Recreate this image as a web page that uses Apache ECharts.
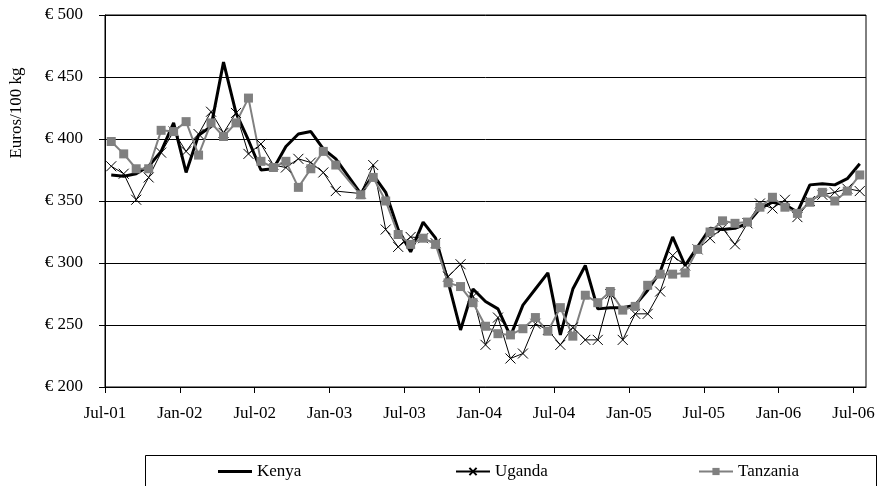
<!DOCTYPE html>
<html>
<head>
<meta charset="utf-8">
<script src="https://cdn.jsdelivr.net/npm/echarts@6/dist/echarts.min.js"></script>
<style>
  html, body { margin: 0; background: #fff; }
  #chart { width: 888px; height: 486px; }
</style>
</head>
<body>
<div id="chart"></div>
<script>
// monthly prices, Jul-01 .. Jul-06 (61 months), euros per 100 kg
var tickLabels = ['Jul-01', 'Jan-02', 'Jul-02', 'Jan-03', 'Jul-03', 'Jan-04', 'Jul-04', 'Jan-05', 'Jul-05', 'Jan-06', 'Jul-06'];

var kenya = [371, 370, 372, 378, 390, 413, 373, 403, 410, 462,
             421, 399, 375, 376, 394, 404, 406, 392, 384, null,
             356, 371, 357, 327, 309, 333, 320, 285, 246, 279,
             269, 263, 241, 266, 279, 292, 242, 279, 298, 263,
             264, 264, 266, 278, 293, 321, 298, 313, 328, 327,
             328, 332, 344, 349, 347, 341, 363, 364, 363, 368,
             380];

var uganda = [378, 372, 351, 369, 389, 406, 390, 404, 422, 405,
              421, 388, 396, 379, 377, 384, 381, 373, 358, null,
              356, 379, 327, 313, 321, 320, 316, 289, 299, 273,
              234, 256, 223, 227, 251, 246, 234, 248, 238, 238,
              275, 238, 259, 259, 277, 306, 298, 311, 320, 328,
              315, 332, 348, 344, 351, 337, 350, 355, 357, 360,
              358];

var tanzania = [398, 388, 376, 376, 407, 406, 414, 387, 413, 402,
                413, 433, 382, 377, 382, 361, 376, 390, 379, null,
                355, 369, 350, 323, 315, 320, 315, 284, 281, 268,
                249, 243, 242, 247, 256, 245, 264, 241, 274, 268,
                277, 262, 265, 282, 291, 291, 292, 311, 325, 334,
                332, 333, 345, 353, 345, 340, 349, 357, 350, 358,
                371];

var serif = '"Liberation Serif", "Times New Roman", serif';

function points(arr) {
    return arr.map(function (v, i) { return [i + 0.5, v]; });
}

var tickPos = tickLabels.map(function (t, i) { return i * 6; });

var myChart = echarts.init(document.getElementById('chart'));
var option = {
    animation: false,
    backgroundColor: '#fff',
    grid: {
        left: 105, right: 22, top: 15, bottom: 99,
        show: true, borderColor: '#000', borderWidth: 1
    },
    xAxis: {
        type: 'value',
        min: 0,
        max: 61,
        axisLine: { lineStyle: { color: '#000', width: 1 } },
        axisTick: { show: true, length: 6, lineStyle: { color: '#000' }, customValues: tickPos },
        axisLabel: {
            customValues: tickPos,
            color: '#000', fontFamily: serif, fontSize: 17, margin: 18,
            formatter: function (v) { return tickLabels[Math.round(v / 6)] || ''; }
        },
        splitLine: { show: false }
    },
    yAxis: {
        type: 'value',
        min: 200,
        max: 500,
        interval: 50,
        axisLine: { show: true, lineStyle: { color: '#000', width: 1 } },
        axisTick: { show: true, length: 6, lineStyle: { color: '#000' } },
        axisLabel: {
            color: '#000', fontFamily: serif, fontSize: 17, margin: 22,
            formatter: function (v) { return '€ ' + v; }
        },
        splitLine: { lineStyle: { color: '#000', width: 1 } }
    },
    legend: [
        { data: [{ name: 'Kenya', icon: 'rect' }], left: 218, itemHeight: 3 },
        { data: ['Uganda'], left: 455, itemHeight: 9 },
        { data: ['Tanzania'], left: 698, itemHeight: 9 }
    ].map(function (l) {
        l.top = 463;
        l.padding = 0;
        l.itemWidth = 34;
        l.selectedMode = false;
        l.textStyle = { color: '#000', fontFamily: serif, fontSize: 17, lineHeight: 17 };
        return l;
    }),
    graphic: [
        {
            type: 'rect',
            shape: { x: 145.5, y: 455.5, width: 731, height: 40 },
            style: { fill: 'none', stroke: '#000', lineWidth: 1 }
        },
        {
            type: 'text',
            x: 17, y: 113,
            rotation: Math.PI / 2,
            style: {
                text: 'Euros/100 kg', font: '17px ' + serif, fill: '#000',
                textAlign: 'center', textVerticalAlign: 'middle'
            }
        }
    ],
    series: [
        {
            name: 'Kenya',
            type: 'line',
            data: points(kenya),
            connectNulls: true,
            symbol: 'none',
            lineStyle: { color: '#000', width: 3 },
            itemStyle: { color: '#000' }
        },
        {
            name: 'Uganda',
            type: 'line',
            data: points(uganda),
            connectNulls: true,
            symbol: 'path://M0,0L10,10M10,0L0,10',
            symbolSize: 10,
            lineStyle: { color: '#000', width: 1 },
            itemStyle: { color: '#000', borderColor: '#000', borderWidth: 1 }
        },
        {
            name: 'Tanzania',
            type: 'line',
            data: points(tanzania),
            connectNulls: true,
            symbol: 'rect',
            symbolSize: 9,
            lineStyle: { color: '#808080', width: 2 },
            itemStyle: { color: '#808080' }
        }
    ]
};
myChart.setOption(option);
</script>
</body>
</html>
